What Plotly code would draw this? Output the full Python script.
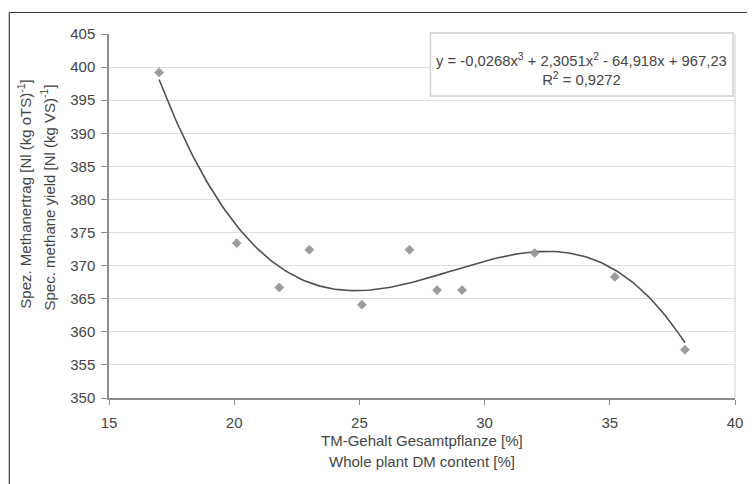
import numpy as np
import plotly.graph_objects as go

# measured points: whole plant DM content [%] vs spec. methane yield
dm_content = [17.0, 20.1, 21.8, 23.0, 25.1, 27.0, 28.1, 29.1, 32.0, 35.2, 38.0]
methane_yield = [399.2, 373.4, 366.7, 372.4, 364.1, 372.4, 366.3, 366.3, 371.9, 368.3, 357.3]

# cubic trend line as printed on the chart (highest power first)
trend_coef = [-0.0268, 2.3051, -64.918, 967.23]
equation_text = "y = -0,0268x<sup>3</sup> + 2,3051x<sup>2</sup> - 64,918x + 967,23<br>R<sup>2</sup> = 0,9272"

x_ticks = [15, 20, 25, 30, 35, 40]
y_ticks = list(range(350, 406, 5))

TEXT_COLOUR = '#454545'
AXIS_COLOUR = '#8c8c8c'
GRID_COLOUR = '#dedede'
FONT = 'Liberation Sans, Arial, sans-serif'

# the page puts the figure 8px in from the window corner
OFF = 8
W, H = 755 - OFF, 484 - OFF
# plot area in screen pixels: x 109..740, y 34..398
L, R, T, B = 109 - OFF, 740 - OFF, 34 - OFF, 398 - OFF


def px_x(p):
    return (p - OFF - L) / (R - L)


def px_y(p):
    return (B - (p - OFF)) / (B - T)


trend_x = np.linspace(min(dm_content), max(dm_content), 200)
trend_y = np.polyval(trend_coef, trend_x)

fig = go.Figure()
fig.add_trace(go.Scatter(x=trend_x, y=trend_y, mode='lines',
                         line={'color': '#505050', 'width': 1.6},
                         hoverinfo='skip'))
fig.add_trace(go.Scatter(x=dm_content, y=methane_yield, mode='markers',
                         marker={'symbol': 'diamond', 'size': 7, 'color': '#9c9c9c',
                                 'line': {'color': '#8a8a8a', 'width': 0.5}}))

fig.update_layout(
    width=W, height=H,
    margin={'l': L, 'r': W - R, 't': T, 'b': H - B},
    paper_bgcolor='white', plot_bgcolor='white',
    showlegend=False,
    font={'family': FONT, 'size': 15, 'color': TEXT_COLOUR},
)
fig.update_xaxes(range=[15, 40], tickvals=x_ticks, showgrid=False, zeroline=False,
                 showline=True, linecolor=AXIS_COLOUR, linewidth=1.5,
                 ticks='outside', ticklen=5, tickcolor=AXIS_COLOUR, ticklabelstandoff=5,
                 tickfont={'size': 15, 'color': TEXT_COLOUR})
fig.update_yaxes(range=[350, 405], tickvals=y_ticks, showgrid=True, gridcolor=GRID_COLOUR,
                 gridwidth=1, zeroline=False,
                 showline=True, linecolor=AXIS_COLOUR, linewidth=1.5,
                 ticks='outside', ticklen=6, tickcolor=AXIS_COLOUR, ticklabelstandoff=3,
                 tickfont={'size': 15, 'color': TEXT_COLOUR})

shapes = [
    # right border of the plot area
    dict(type='line', xref='paper', yref='paper', x0=1, x1=1, y0=0, y1=1,
         line={'color': '#cfcfcf', 'width': 1}),
    # equation box
    dict(type='rect', xref='paper', yref='paper', x0=px_x(433), x1=px_x(738),
         y0=px_y(96), y1=px_y(33), fillcolor='white',
         line={'color': '#cfcfcf', 'width': 1.5}, layer='above'),
    # outer frame (left and top)
    dict(type='line', xref='paper', yref='paper', x0=px_x(8.5), x1=px_x(8.5),
         y0=px_y(500), y1=px_y(12.5), line={'color': '#3c3c3c', 'width': 1.2}),
    dict(type='line', xref='paper', yref='paper', x0=px_x(8.5), x1=px_x(770),
         y0=px_y(12.5), y1=px_y(12.5), line={'color': '#3c3c3c', 'width': 1.2}),
]
fig.update_layout(shapes=shapes)

annotations = [
    dict(text=equation_text, xref='paper', yref='paper', x=px_x(585), y=px_y(70),
         xanchor='center', yanchor='middle',
         showarrow=False, font={'size': 14.8, 'color': TEXT_COLOUR}, align='center'),
    dict(text='Spez. Methanertrag [Nl (kg oTS)<sup>-1</sup>]', xref='paper', yref='paper',
         x=px_x(23), y=px_y(194), xanchor='center', yanchor='middle',
         textangle=-90, showarrow=False, font={'size': 15, 'color': TEXT_COLOUR}),
    dict(text='Spec. methane yield [Nl (kg VS)<sup>-1</sup>]', xref='paper', yref='paper',
         x=px_x(47), y=px_y(197), xanchor='center', yanchor='middle',
         textangle=-90, showarrow=False, font={'size': 15, 'color': TEXT_COLOUR}),
    dict(text='TM-Gehalt Gesamtpflanze [%]', xref='paper', yref='paper',
         x=0.5, y=px_y(440), xanchor='center', yanchor='middle',
         showarrow=False, font={'size': 15, 'color': TEXT_COLOUR}),
    dict(text='Whole plant DM content [%]', xref='paper', yref='paper',
         x=0.5, y=px_y(461), xanchor='center', yanchor='middle',
         showarrow=False, font={'size': 15, 'color': TEXT_COLOUR}),
]
fig.update_layout(annotations=annotations)

fig.write_html("out.html")
